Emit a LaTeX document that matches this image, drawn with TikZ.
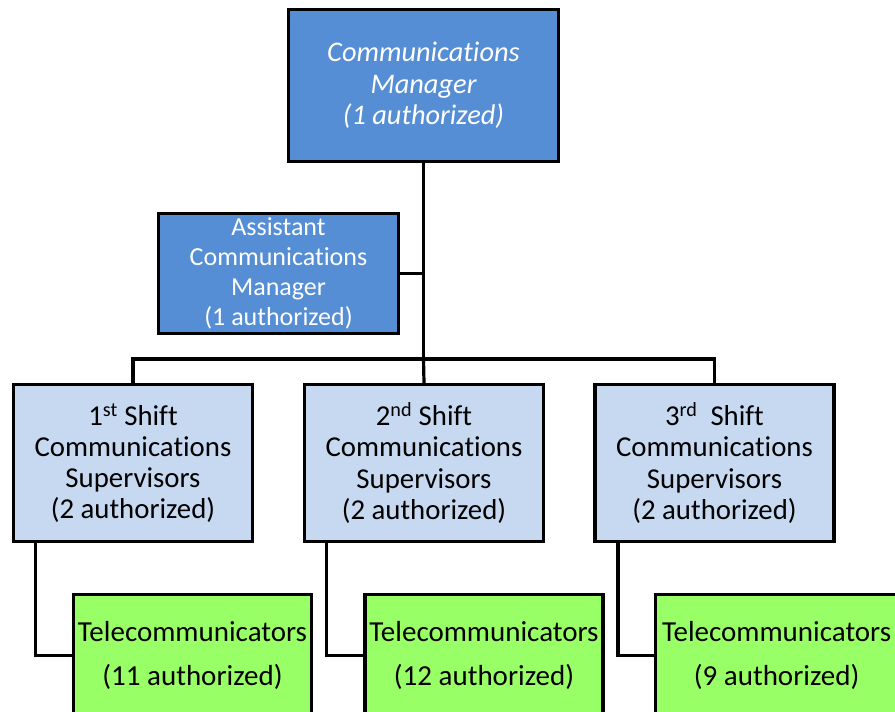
\documentclass[tikz,border=0pt]{standalone}
\usepackage{fontspec}
\setmainfont{Carlito}[Ligatures=CommonOff]
\definecolor{mgrblue}{RGB}{85,142,213}
\definecolor{supblue}{RGB}{198,217,241}
\definecolor{telgreen}{RGB}{153,255,102}
\begin{document}
\begin{tikzpicture}[x=1pt,y=-1pt,
  orgbox/.style={draw=black, line width=3.2pt, rectangle, inner sep=0pt,
    align=center},
  mgrbox/.style={orgbox, fill=mgrblue, text=white},
  supbox/.style={orgbox, fill=supblue, minimum width=239pt, minimum height=157pt,
    font=\fontsize{28.8}{31.2}\selectfont},
  telbox/.style={orgbox, fill=telgreen, minimum width=238pt, minimum height=122pt,
    font=\fontsize{29}{44}\selectfont},
  link/.style={draw=black, line width=3.2pt}]
\useasboundingbox (0,0) rectangle (895,712);
\clip (0,0) rectangle (895,712);

% management
\node[mgrbox, minimum width=270pt, minimum height=152pt,
  font=\fontsize{28.4}{31.5}\selectfont\itshape] (mgr) at (423.5,85.5)
  {Communications\\Manager\\(1 authorized)};
\node[mgrbox, minimum width=240pt, minimum height=120pt,
  font=\fontsize{26}{30}\selectfont] (asst) at (278.5,273.5)
  {Assistant\\Communications\\Manager\\(1 authorized)};

% shift supervisors
\node[supbox] (s1) at (133,463) {1\textsuperscript{st} Shift\\Communications\\Supervisors\\(2 authorized)};
\node[supbox] (s2) at (424,463) {2\textsuperscript{nd} Shift\\Communications\\Supervisors\\(2 authorized)};
\node[supbox] (s3) at (714.5,463) {3\textsuperscript{rd}\hspace{0.45em}Shift\\Communications\\Supervisors\\(2 authorized)};

% telecommunicators
\node[telbox] (g1) at (192.5,655.8) {Telecommunicators\\(11 authorized)};
\node[telbox] (g2) at (484,655.8) {Telecommunicators\\(12 authorized)};
\node[telbox, minimum width=242pt] (g3) at (776.6,655.8) {Telecommunicators\\(9 authorized)};

% connectors
\coordinate (bus) at (mgr.south |- 0,359);
\draw[link] (mgr.south) -- (bus);
\draw[link] (asst.east) -- (asst.east -| bus);
\draw[link] (s1.north) |- (bus) -| (s3.north);
\draw[link] (bus) -- (s2.north);
\draw[link] ([xshift=23.5pt]s1.south west) |- (g1.west);
\draw[link] ([xshift=23.5pt]s2.south west) |- (g2.west);
\draw[link] ([xshift=24.5pt]s3.south west) |- (g3.west);
\end{tikzpicture}
\end{document}
